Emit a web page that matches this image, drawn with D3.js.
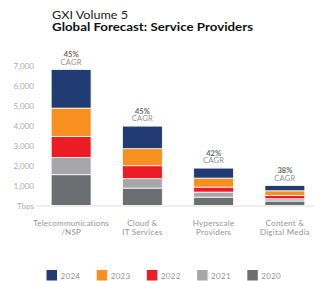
<!DOCTYPE html>
<html>
<head>
<meta charset="utf-8">
<script src="https://cdn.jsdelivr.net/npm/d3@7"></script>
<style>
  body { margin: 0; background: #fff; }
  svg { display: block; font-family: Lato, "Open Sans", sans-serif; }
</style>
</head>
<body>
<div id="chart"></div>
<script>
var categories = [['Telecommunications', '/NSP'], ['Cloud &', 'IT Services'], ['Hyperscale', 'Providers'], ['Content &', 'Digital Media']];
var years = ['2020', '2021', '2022', '2023', '2024'];
var v2020 = [1540, 870, 420, 225];
var v2021 = [860, 470, 250, 110];
var v2022 = [1050, 650, 250, 165];
var v2023 = [1420, 850, 450, 235];
var v2024 = [1930, 1130, 500, 265];
var cagr = ['45%', '45%', '42%', '38%'];
var yTicks = [0, 1000, 2000, 3000, 4000, 5000, 6000, 7000];

var width = 314;
var height = 281;
var colors = {
  '2024': '#213c72',
  '2023': '#f7901e',
  '2022': '#ec1c24',
  '2021': '#a7a7a9',
  '2020': '#6d6e71'
};

var svg = d3.select('#chart')
  .append('svg')
  .attr('width', width)
  .attr('height', height);

// titles
svg.append('text')
  .attr('x', 52)
  .attr('y', 18.5)
  .attr('font-size', 11.5)
  .attr('fill', '#222')
  .attr('textLength', 76)
  .attr('lengthAdjust', 'spacingAndGlyphs')
  .text('GXI Volume 5');

svg.append('text')
  .attr('x', 52)
  .attr('y', 31)
  .attr('font-size', 11.5)
  .attr('font-weight', 'bold')
  .attr('fill', '#111')
  .attr('textLength', 201)
  .attr('lengthAdjust', 'spacingAndGlyphs')
  .text('Global Forecast: Service Providers');

var rows = categories.map(function (c, i) {
  return {
    key: i,
    '2020': v2020[i],
    '2021': v2021[i],
    '2022': v2022[i],
    '2023': v2023[i],
    '2024': v2024[i]
  };
});

var x = d3.scaleBand()
  .domain(d3.range(categories.length))
  .range([35.5, 320.5])
  .paddingInner(0.44)
  .paddingOuter(0.22);

var y = d3.scaleLinear()
  .domain([0, 7000])
  .range([205.5, 65.5]);

// y labels
svg.selectAll('.ytick')
  .data(yTicks)
  .enter()
  .append('text')
  .attr('class', 'ytick')
  .attr('x', 34)
  .attr('y', function (d) { return y(d) + 3; })
  .attr('text-anchor', 'end')
  .attr('font-size', 8)
  .attr('fill', '#ababab')
  .text(function (d) { return d === 0 ? 'Tbps' : d3.format(',')(d); });

// baseline
svg.append('line')
  .attr('x1', 36)
  .attr('x2', width)
  .attr('y1', y(0) + 0.5)
  .attr('y2', y(0) + 0.5)
  .attr('stroke', '#dcdcdc')
  .attr('stroke-width', 1);

var stacked = d3.stack().keys(years)(rows);

svg.append('g')
  .selectAll('g')
  .data(stacked)
  .enter()
  .append('g')
  .attr('fill', function (d) { return colors[d.key]; })
  .selectAll('rect')
  .data(function (d) { return d; })
  .enter()
  .append('rect')
  .attr('x', function (d) { return x(d.data.key); })
  .attr('width', x.bandwidth())
  .attr('y', function (d) { return y(d[1]); })
  .attr('height', function (d) { return y(d[0]) - y(d[1]); })
  .attr('stroke', '#fff')
  .attr('stroke-width', 0.8);

// CAGR labels
var totals = rows.map(function (r) {
  return d3.sum(years, function (k) { return r[k]; });
});

svg.selectAll('.pct')
  .data(cagr)
  .enter()
  .append('text')
  .attr('class', 'pct')
  .attr('x', function (d, i) { return x(i) + x.bandwidth() / 2; })
  .attr('y', function (d, i) { return y(totals[i]) - 12.5; })
  .attr('text-anchor', 'middle')
  .attr('font-size', 7.5)
  .attr('font-weight', 'bold')
  .attr('fill', '#6b6b6b')
  .text(function (d) { return d; });

svg.selectAll('.cagr')
  .data(cagr)
  .enter()
  .append('text')
  .attr('class', 'cagr')
  .attr('x', function (d, i) { return x(i) + x.bandwidth() / 2; })
  .attr('y', function (d, i) { return y(totals[i]) - 5; })
  .attr('text-anchor', 'middle')
  .attr('font-size', 7.5)
  .attr('letter-spacing', 0.3)
  .attr('fill', '#8f8f8f')
  .text('CAGR');

// category labels
var catLabels = svg.selectAll('.cat')
  .data(categories)
  .enter()
  .append('text')
  .attr('class', 'cat')
  .attr('text-anchor', 'middle')
  .attr('font-size', 8)
  .attr('letter-spacing', 0.25)
  .attr('fill', '#939393');

catLabels.selectAll('tspan')
  .data(function (d, i) { return d.map(function (t) { return { t: t, i: i }; }); })
  .enter()
  .append('tspan')
  .attr('x', function (d) { return x(d.i) + x.bandwidth() / 2; })
  .attr('y', function (d, j) { return 226 + j * 9; })
  .text(function (d) { return d.t; });

// legend
var legendYears = years.slice().reverse();
var legend = svg.selectAll('.legend')
  .data(legendYears)
  .enter()
  .append('g')
  .attr('class', 'legend')
  .attr('transform', function (d, i) { return 'translate(' + (46.5 + i * 50.2) + ',270)'; });

legend.append('rect')
  .attr('width', 10.5)
  .attr('height', 10.5)
  .attr('fill', function (d) { return colors[d]; });

legend.append('text')
  .attr('x', 14)
  .attr('y', 8.5)
  .attr('font-size', 8)
  .attr('letter-spacing', 0.3)
  .attr('fill', '#939393')
  .text(function (d) { return d; });
</script>
</body>
</html>
